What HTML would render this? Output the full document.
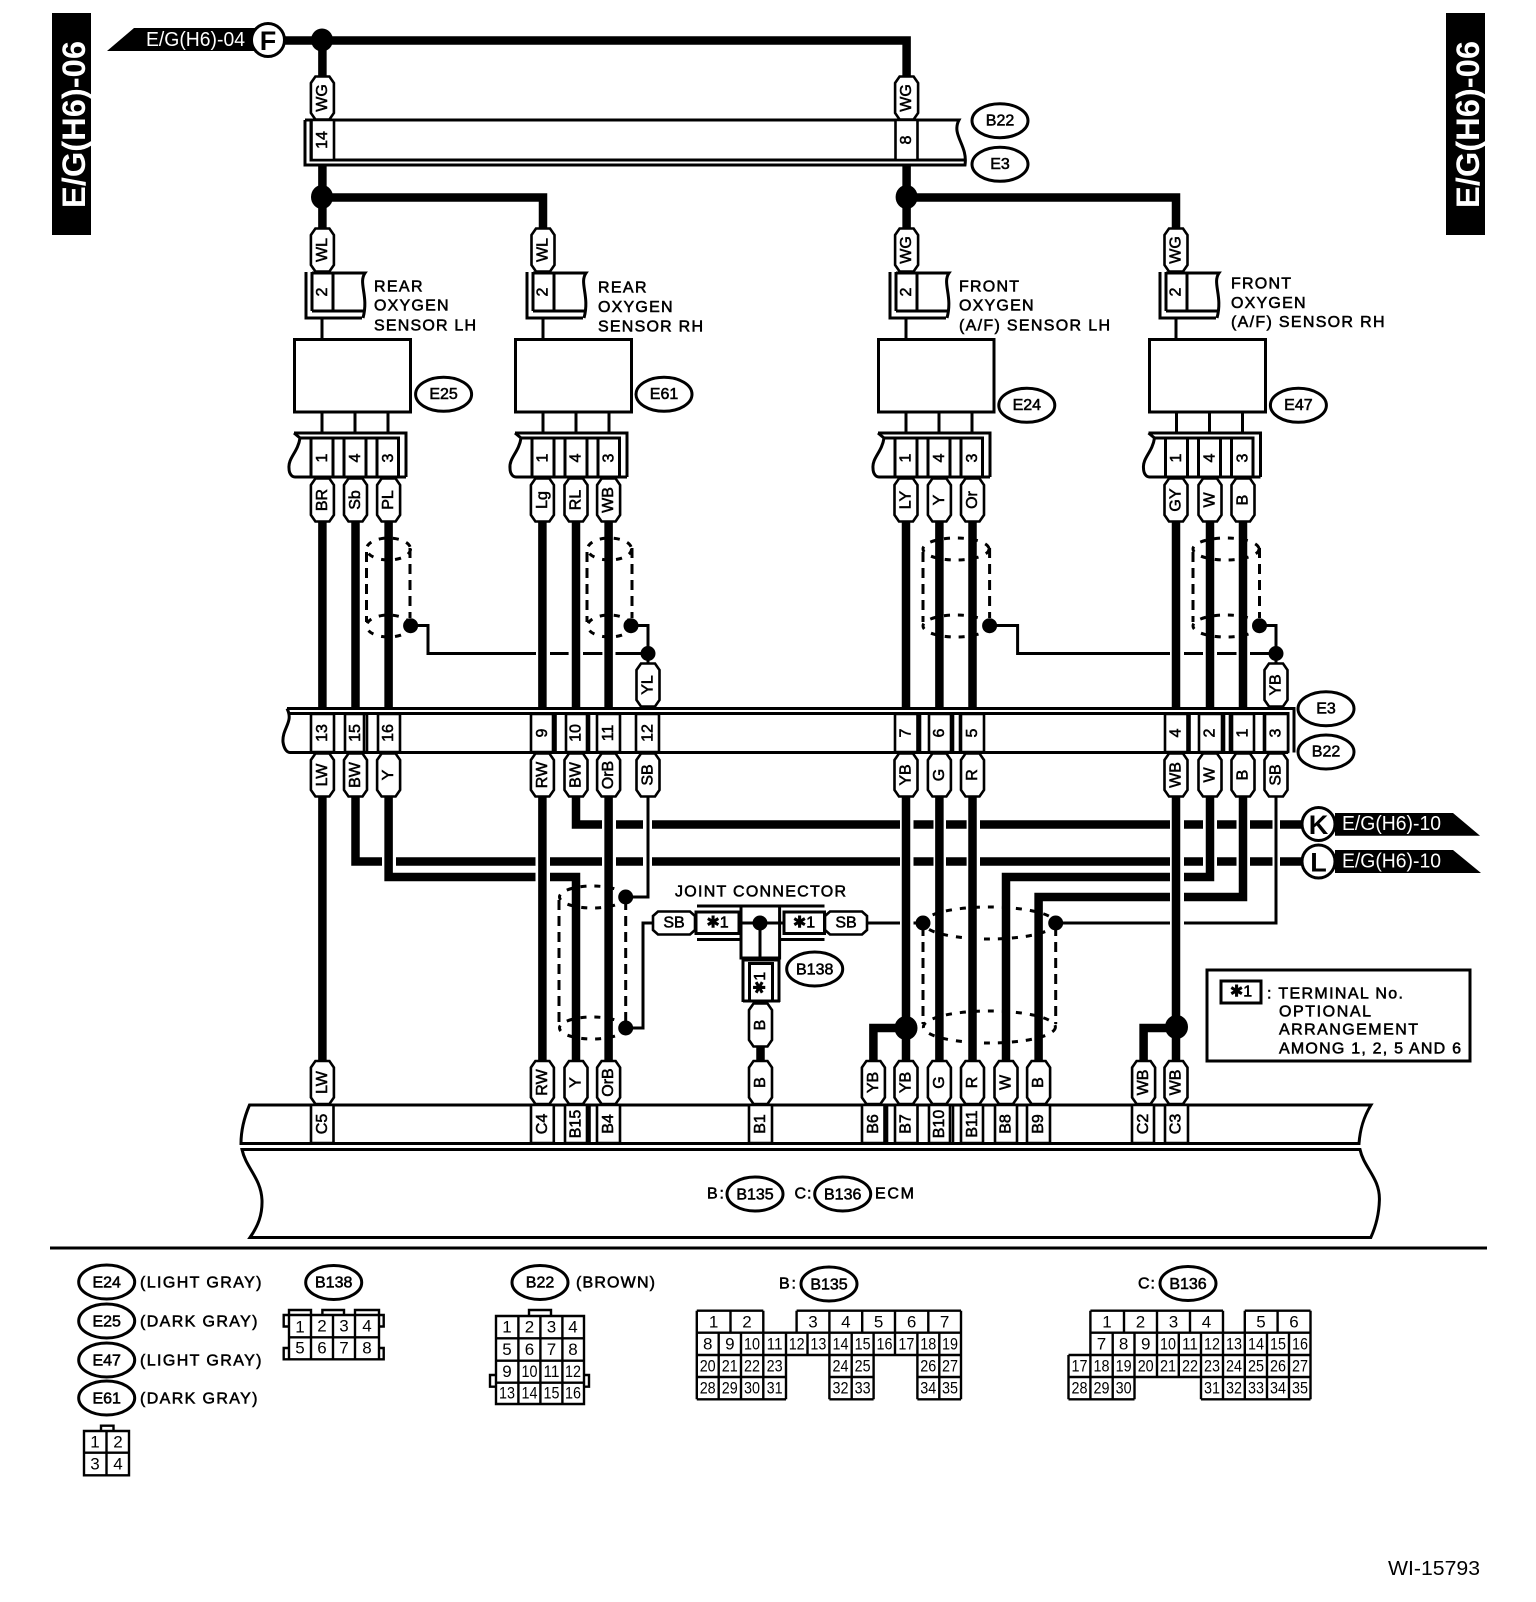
<!DOCTYPE html>
<html><head><meta charset="utf-8"><title>WI-15793</title>
<style>
html,body{margin:0;padding:0;background:#fff}
svg{display:block}
text{font-family:"Liberation Sans","DejaVu Sans",sans-serif;dominant-baseline:central;fill:#000;font-size:16px}
.m text,text.m{text-anchor:middle}
.b text,text.b{stroke:#000;stroke-width:.55px}
.w text,text.w{fill:#fff;stroke:none}
.t{fill:none;stroke:#000;stroke-width:3;stroke-linejoin:miter}
.k{fill:none;stroke:#000;stroke-width:8.5;stroke-linejoin:miter}
.d1{fill:none;stroke:#000;stroke-width:3;stroke-dasharray:6 8}
.d2{fill:none;stroke:#000;stroke-width:3;stroke-dasharray:10 6}
.o{fill:#fff;stroke:#000;stroke-width:3}
.c{fill:#fff;stroke:#000;stroke-width:2.6}
.g{fill:none;stroke:#000;stroke-width:2.4}
.n text{font-size:17px}
</style></head><body>
<svg xmlns="http://www.w3.org/2000/svg" width="1536" height="1602" viewBox="0 0 1536 1602">
<rect width="1536" height="1602" fill="#fff"/>
<defs>
<path id="p" class="c" d="M-11.5,-15 L-7,-21.5 H7 L11.5,-15 V15 L7,21.5 H-7 L-11.5,15 Z" stroke-width="2.6"/>
<path id="h" class="c" d="M-21,-7 L-16,-11.5 H16 L21,-7 V7 L16,11.5 H-16 L-21,7 Z"/>
<g id="top"><path class="t" d="M-16,272 V318 H40 M-10,272 V311 M-10,273 H43 C36,283 47,296 41,318 M-10,311 H42 M11,272 V311"/><path class="t" d="M0,318 V339"/></g>
<g id="low"><path class="t" d="M-28,433 H84 V477 M-22,438 H76.5 V477 M-28,433 L-22,438 C-24,452 -34,458 -33,468 C-33,474 -30,477 -27,477 H84"/><path class="t" d="M0,412 V433 M33,412 V433 M66,412 V433 M-11,438 V477 M11,438 V477 M22,438 V477 M44,438 V477 M55,438 V477"/></g>
</defs>

<!-- side bars -->
<rect x="52" y="13" width="39" height="222" fill="#000"/>
<text class="w" style="font-size:32px;font-weight:bold" text-anchor="middle" textLength="167" lengthAdjust="spacingAndGlyphs" transform="translate(74 124.5) rotate(-90)">E/G(H6)-06</text>
<rect x="1446" y="13" width="39" height="222" fill="#000"/>
<text class="w" style="font-size:32px;font-weight:bold" text-anchor="middle" textLength="167" lengthAdjust="spacingAndGlyphs" transform="translate(1468 124.5) rotate(-90)">E/G(H6)-06</text>

<!-- top tag F -->
<path d="M107,51 L134,28 H256 V51 Z" fill="#000"/>
<text class="w" x="146" y="40" style="font-size:20px" textLength="99" lengthAdjust="spacingAndGlyphs">E/G(H6)-04</text>

<!-- shields (under wires) -->
<g>
<ellipse class="d1" cx="388.5" cy="549" rx="22" ry="11"/><ellipse class="d1" cx="388.5" cy="626" rx="22" ry="11"/><path class="d2" d="M366.5,552 V622 M410,548 V618"/>
<ellipse class="d1" cx="609.5" cy="549" rx="22" ry="11"/><ellipse class="d1" cx="609.5" cy="626" rx="22" ry="11"/><path class="d2" d="M587,552 V622 M632,548 V618"/>
<ellipse class="d1" cx="956" cy="549" rx="33" ry="11"/><ellipse class="d1" cx="956" cy="626" rx="33" ry="11"/><path class="d2" d="M923,552 V622 M989.6,548 V618"/>
<ellipse class="d1" cx="1226" cy="549" rx="33" ry="11"/><ellipse class="d1" cx="1226" cy="626" rx="33" ry="11"/><path class="d2" d="M1193,552 V622 M1259.5,548 V618"/>
<ellipse class="d1" cx="592.5" cy="897" rx="33" ry="11"/><ellipse class="d1" cx="592.5" cy="1028" rx="33" ry="11"/><path class="d2" d="M559,900 V1024 M625.7,900 V1024"/>
<ellipse class="d1" cx="989.4" cy="923" rx="66" ry="16"/><ellipse class="d1" cx="989.4" cy="1027" rx="66" ry="16"/><path class="d2" d="M923,926 V1024 M1055.7,926 V1024"/>
</g>

<!-- thick wires -->
<path class="k" d="M284,40.5 H906.6 V77 M322.4,40 V77 M322.4,165 V229 M322.4,197.5 H543 V229 M906.6,165 V229 M906.6,197.5 H1176 V229"/>
<path class="k" d="M322.4,521 V708 M355.5,521 V708 M388.6,521 V708 M542.4,521 V708 M576,521 V708 M608.6,521 V708 M906,521 V708 M939.4,521 V708 M972.5,521 V708 M1176,521 V708 M1210,521 V708 M1243,521 V708"/>
<path class="k" d="M322.4,797 V1062 M542.4,797 V1062 M608.6,797 V1062 M906,797 V1062 M939.4,797 V1062 M972.5,797 V1062 M1176,797 V1062"/>
<path class="k" d="M576,797 V824.5 H602 M616,824.5 H643 M652,824.5 H900 M913.5,824.5 H933.5 M946,824.5 H966.6 M980,824.5 H1170 M1184,824.5 H1203 M1217,824.5 H1236.5 M1250,824.5 H1272.5 M1280,824.5 H1304"/>
<path class="k" d="M355.5,797 V861.5 H382 M396,861.5 H535.5 M550,861.5 H602 M616,861.5 H643 M652,861.5 H900 M913.5,861.5 H933.5 M946,861.5 H966.6 M980,861.5 H1170 M1184,861.5 H1203 M1217,861.5 H1236.5 M1250,861.5 H1272.5 M1280,861.5 H1304"/>
<path class="k" d="M388.6,797 V877 H535.5 M550,877 H576 V1062"/>
<path class="k" d="M1210,797 V877 H1184 M1170,877 H1006 V1062"/>
<path class="k" d="M1243,797 V897 H1184 M1170,897 H1038.6 V1062"/>
<path class="k" d="M906,1028 H873.4 V1062 M1176,1028 H1143.6 V1062 M760.5,1046 V1062"/>

<!-- thin wires -->
<path class="t" d="M411,625.5 H428 V653.5 H536 M550,653.5 H568.6 M583,653.5 H602.4 M615.5,653.5 H648 M631,625.5 H648 V664"/>
<path class="t" d="M990,625.5 H1017.6 V653.5 H1170 M1184,653.5 H1203 M1217,653.5 H1236.5 M1250,653.5 H1276 M1259.5,625.5 H1276 V664"/>
<path class="t" d="M648,797 V897 H626"/>
<path class="t" d="M1276,797 V923 H1184 M1170,923 H1056 M923,923 H913.5 M900,923 H866"/>
<path class="t" d="M626,1028 H643 V923 H654"/>

<!-- dots -->
<g fill="#000">
<ellipse cx="322" cy="40" rx="11" ry="11.5"/><ellipse cx="322" cy="197" rx="11" ry="12"/><ellipse cx="906.6" cy="197" rx="11" ry="12"/>
<circle cx="410.6" cy="625.7" r="7.5"/><circle cx="631" cy="625.7" r="7.5"/><circle cx="989.6" cy="625.7" r="7.5"/><circle cx="1259.5" cy="625.7" r="7.5"/>
<circle cx="648" cy="653.5" r="7.5"/><circle cx="1276" cy="653.5" r="7.5"/>
<circle cx="625.7" cy="897" r="7.5"/><circle cx="625.7" cy="1028" r="7.5"/><circle cx="923" cy="923" r="7.5"/><circle cx="1055.7" cy="923" r="7.5"/>
<ellipse cx="906" cy="1028" rx="11.5" ry="12"/><ellipse cx="1176.5" cy="1027" rx="11.5" ry="12"/>
</g>

<!-- top connector -->
<path class="t" d="M305,120 H959 C951,135 968,145 965,165 H305 V120 M311,120 V160 H964"/>
<path class="c" d="M311.5,120 H334 V160 H311.5 Z M895.5,120 H917.5 V160 H895.5 Z"/>

<!-- sensor top connectors and boxes -->
<use href="#top" x="322"/><use href="#top" x="543"/><use href="#top" x="906"/><use href="#top" x="1176"/>
<g fill="#fff" stroke="#000" stroke-width="3">
<rect x="294.5" y="339.5" width="116" height="72.5"/><rect x="515.5" y="339.5" width="116" height="72.5"/><rect x="878.5" y="339.5" width="115.5" height="72.5"/><rect x="1149.5" y="339.5" width="116" height="72.5"/>
</g>
<use href="#low" x="322"/><use href="#low" x="543"/><use href="#low" x="906"/><use href="#low" x="1176.5"/>

<!-- main bus -->
<path class="t" d="M287,708.5 H1294 V752.5 M290,713.5 H1288 V752.5 M287,708.5 C294,722 282,728 283,742 C284,749 287,752.5 290,752.5 H1288"/>
<g class="c">
<path d="M311,714 H334 V752 H311 Z M345,714 H367 V752 H345 Z M364,714 V752 M378,714 H400 V752 H378 Z M531,714 H553 V752 H531 Z M555.5,714 V752 M566,714 H587 V752 H566 Z M589,714 V752 M597,714 H620 V752 H597 Z M636,714 H659 V752 H636 Z M895,714 H917.5 V752 H895 Z M920,714 V752 M929,714 H951 V752 H929 Z M953,714 V752 M960,714 V752 M961,714 H984 V752 H961 Z M1165,714 H1187.5 V752 H1165 Z M1189.5,714 V752 M1199,714 H1222 V752 H1199 Z M1224,714 V752 M1230,714 V752 M1232,714 H1254 V752 H1232 Z M1264,714 V752 M1265,714 H1288 V752 H1265 Z"/>
</g>

<!-- ECM -->
<path class="t" d="M249.5,1105 H1371 C1363,1118 1360,1130 1359,1143.5 H241 C241,1130 244,1118 249.5,1105 Z"/>
<path class="t" d="M242,1149.5 H1360 C1364,1168 1380,1178 1379.4,1200 C1379,1215 1376,1226 1370.8,1237.5 H250 C258,1226 262.5,1215 262,1200 C261,1178 246,1168 242,1149.5 Z"/>
<path class="c" d="M311,1105 H333.5 V1143 H311 Z M531,1105 H553.8 V1143 H531 Z M565,1105 H587 V1143 H565 Z M589.5,1105 V1143 M597,1105 H620 V1143 H597 Z M749,1105 H772 V1143 H749 Z M862,1105 H884.5 V1143 H862 Z M887,1105 V1143 M895,1105 H917.5 V1143 H895 Z M929,1105 H950 V1143 H929 Z M953,1105 V1143 M961,1105 H983 V1143 H961 Z M995,1105 H1017 V1143 H995 Z M1027,1105 H1050 V1143 H1027 Z M1132,1105 H1154 V1143 H1132 Z M1165,1105 H1188 V1143 H1165 Z"/>
<path d="M50,1248 H1487" stroke="#000" stroke-width="3" fill="none"/>

<!-- joint connector -->
<path class="t" d="M697,906 H824.5 M697,939.5 H741 M781,939.5 H824.5 M741,907 V958 H779.6 V907 M739,923 H784 M760,923 V958"/>
<rect x="696" y="912" width="43" height="21.5" class="o"/><rect x="784" y="912" width="40.5" height="21.5" class="o"/>
<circle cx="760" cy="923" r="7.5" fill="#000"/>
<path class="t" d="M743,1002 V960 H779 V1002 M743,1001 H780 M749.5,1002 V963.5 H772.5 V1002"/>
<use href="#h" x="674" y="923"/><use href="#h" x="846" y="923"/>
<use href="#p" x="760.5" y="1025"/>

<!-- K L tags -->
<path d="M1335,813 H1453 L1480,835.7 H1335 Z" fill="#000"/>
<path d="M1335,850 H1453 L1481,873 H1335 Z" fill="#000"/>
<text class="w" x="1342" y="824" style="font-size:20px" textLength="99" lengthAdjust="spacingAndGlyphs">E/G(H6)-10</text>
<text class="w" x="1342" y="861.5" style="font-size:20px" textLength="99" lengthAdjust="spacingAndGlyphs">E/G(H6)-10</text>
<g class="o"><circle cx="268" cy="40" r="16.5"/><circle cx="1318.5" cy="824" r="16.5"/><circle cx="1318.5" cy="861.5" r="16.5"/></g>
<g class="m" style="font-weight:bold">
<text x="268" y="41" style="font-size:27px;font-weight:bold">F</text><text x="1318.5" y="825" style="font-size:27px;font-weight:bold">K</text><text x="1318.5" y="862.5" style="font-size:27px;font-weight:bold">L</text>
</g>

<!-- pills -->
<use href="#p" x="322.4" y="98"/><use href="#p" x="906.6" y="98"/>
<use href="#p" x="322.4" y="250"/><use href="#p" x="543" y="250"/><use href="#p" x="906.6" y="250"/><use href="#p" x="1176" y="250"/>
<use href="#p" x="322.4" y="500"/><use href="#p" x="355.5" y="500"/><use href="#p" x="388.6" y="500"/><use href="#p" x="542.4" y="500"/><use href="#p" x="576" y="500"/><use href="#p" x="608.6" y="500"/><use href="#p" x="906" y="500"/><use href="#p" x="939.4" y="500"/><use href="#p" x="972.5" y="500"/><use href="#p" x="1176" y="500"/><use href="#p" x="1210" y="500"/><use href="#p" x="1243" y="500"/>
<use href="#p" x="648" y="685"/><use href="#p" x="1276" y="685"/>
<use href="#p" x="322.4" y="775"/><use href="#p" x="355.5" y="775"/><use href="#p" x="388.6" y="775"/><use href="#p" x="542.4" y="775"/><use href="#p" x="576" y="775"/><use href="#p" x="608.6" y="775"/><use href="#p" x="648" y="775"/><use href="#p" x="906" y="775"/><use href="#p" x="939.4" y="775"/><use href="#p" x="972.5" y="775"/><use href="#p" x="1176" y="775"/><use href="#p" x="1210" y="775"/><use href="#p" x="1243" y="775"/><use href="#p" x="1276" y="775"/>
<use href="#p" x="322.4" y="1082.5"/><use href="#p" x="542.4" y="1082.5"/><use href="#p" x="576" y="1082.5"/><use href="#p" x="608.6" y="1082.5"/><use href="#p" x="760.5" y="1082.5"/><use href="#p" x="873.4" y="1082.5"/><use href="#p" x="906" y="1082.5"/><use href="#p" x="939.4" y="1082.5"/><use href="#p" x="972.5" y="1082.5"/><use href="#p" x="1006" y="1082.5"/><use href="#p" x="1038.6" y="1082.5"/><use href="#p" x="1143.6" y="1082.5"/><use href="#p" x="1176" y="1082.5"/>

<!-- rotated text -->
<g class="m b">
<text transform="translate(322.4 98) rotate(-90)">WG</text><text transform="translate(906.6 98) rotate(-90)">WG</text>
<text transform="translate(322.4 250) rotate(-90)">WL</text><text transform="translate(543 250) rotate(-90)">WL</text><text transform="translate(906.6 250) rotate(-90)">WG</text><text transform="translate(1176 250) rotate(-90)">WG</text>
<text transform="translate(322.4 500) rotate(-90)">BR</text><text transform="translate(355.5 500) rotate(-90)">Sb</text><text transform="translate(388.6 500) rotate(-90)">PL</text><text transform="translate(542.4 500) rotate(-90)">Lg</text><text transform="translate(576 500) rotate(-90)">RL</text><text transform="translate(608.6 500) rotate(-90)">WB</text><text transform="translate(906 500) rotate(-90)">LY</text><text transform="translate(939.4 500) rotate(-90)">Y</text><text transform="translate(972.5 500) rotate(-90)">Or</text><text transform="translate(1176 500) rotate(-90)">GY</text><text transform="translate(1210 500) rotate(-90)">W</text><text transform="translate(1243 500) rotate(-90)">B</text>
<text transform="translate(648 685) rotate(-90)">YL</text><text transform="translate(1276 685) rotate(-90)">YB</text>
<text transform="translate(322.4 775) rotate(-90)">LW</text><text transform="translate(355.5 775) rotate(-90)">BW</text><text transform="translate(388.6 775) rotate(-90)">Y</text><text transform="translate(542.4 775) rotate(-90)">RW</text><text transform="translate(576 775) rotate(-90)">BW</text><text transform="translate(608.6 775) rotate(-90)">OrB</text><text transform="translate(648 775) rotate(-90)">SB</text><text transform="translate(906 775) rotate(-90)">YB</text><text transform="translate(939.4 775) rotate(-90)">G</text><text transform="translate(972.5 775) rotate(-90)">R</text><text transform="translate(1176 775) rotate(-90)">WB</text><text transform="translate(1210 775) rotate(-90)">W</text><text transform="translate(1243 775) rotate(-90)">B</text><text transform="translate(1276 775) rotate(-90)">SB</text>
<text transform="translate(760.5 1025) rotate(-90)">B</text>
<text transform="translate(322.4 1082.5) rotate(-90)">LW</text><text transform="translate(542.4 1082.5) rotate(-90)">RW</text><text transform="translate(576 1082.5) rotate(-90)">Y</text><text transform="translate(608.6 1082.5) rotate(-90)">OrB</text><text transform="translate(760.5 1082.5) rotate(-90)">B</text><text transform="translate(873.4 1082.5) rotate(-90)">YB</text><text transform="translate(906 1082.5) rotate(-90)">YB</text><text transform="translate(939.4 1082.5) rotate(-90)">G</text><text transform="translate(972.5 1082.5) rotate(-90)">R</text><text transform="translate(1006 1082.5) rotate(-90)">W</text><text transform="translate(1038.6 1082.5) rotate(-90)">B</text><text transform="translate(1143.6 1082.5) rotate(-90)">WB</text><text transform="translate(1176 1082.5) rotate(-90)">WB</text>
<text transform="translate(322.4 140) rotate(-90)">14</text><text transform="translate(906.6 140) rotate(-90)">8</text>
<text transform="translate(322.4 292) rotate(-90)">2</text><text transform="translate(543 292) rotate(-90)">2</text><text transform="translate(906.6 292) rotate(-90)">2</text><text transform="translate(1176 292) rotate(-90)">2</text>
<text transform="translate(322.4 458) rotate(-90)">1</text><text transform="translate(355.5 458) rotate(-90)">4</text><text transform="translate(388.6 458) rotate(-90)">3</text><text transform="translate(543 458) rotate(-90)">1</text><text transform="translate(576 458) rotate(-90)">4</text><text transform="translate(609 458) rotate(-90)">3</text><text transform="translate(906 458) rotate(-90)">1</text><text transform="translate(939.4 458) rotate(-90)">4</text><text transform="translate(972.5 458) rotate(-90)">3</text><text transform="translate(1176.5 458) rotate(-90)">1</text><text transform="translate(1210 458) rotate(-90)">4</text><text transform="translate(1243 458) rotate(-90)">3</text>
<text transform="translate(322.4 733) rotate(-90)">13</text><text transform="translate(355.5 733) rotate(-90)">15</text><text transform="translate(388.6 733) rotate(-90)">16</text><text transform="translate(542.4 733) rotate(-90)">9</text><text transform="translate(576 733) rotate(-90)">10</text><text transform="translate(608.6 733) rotate(-90)">11</text><text transform="translate(648 733) rotate(-90)">12</text><text transform="translate(906 733) rotate(-90)">7</text><text transform="translate(939.4 733) rotate(-90)">6</text><text transform="translate(972.5 733) rotate(-90)">5</text><text transform="translate(1176 733) rotate(-90)">4</text><text transform="translate(1210 733) rotate(-90)">2</text><text transform="translate(1243 733) rotate(-90)">1</text><text transform="translate(1276 733) rotate(-90)">3</text>
<text transform="translate(322.4 1124) rotate(-90)">C5</text><text transform="translate(542.4 1124) rotate(-90)">C4</text><text transform="translate(576 1124) rotate(-90)">B15</text><text transform="translate(608.6 1124) rotate(-90)">B4</text><text transform="translate(760.5 1124) rotate(-90)">B1</text><text transform="translate(873.4 1124) rotate(-90)">B6</text><text transform="translate(906 1124) rotate(-90)">B7</text><text transform="translate(939.4 1124) rotate(-90)">B10</text><text transform="translate(972.5 1124) rotate(-90)">B11</text><text transform="translate(1006 1124) rotate(-90)">B8</text><text transform="translate(1038.6 1124) rotate(-90)">B9</text><text transform="translate(1143.6 1124) rotate(-90)">C2</text><text transform="translate(1176 1124) rotate(-90)">C3</text>
<text transform="translate(760.5 983) rotate(-90)">✱1</text>
</g>

<!-- joint labels -->
<g class="m b">
<text x="674" y="923">SB</text><text x="846" y="923">SB</text><text x="717.5" y="923">✱1</text><text x="804" y="923">✱1</text>
</g>
<text class="b" x="675" y="892" textLength="171" lengthAdjust="spacing">JOINT CONNECTOR</text>

<!-- sensor labels -->
<g class="b">
<text x="374" y="287" textLength="48.5">REAR</text><text x="374" y="306" textLength="74.5">OXYGEN</text><text x="374" y="326" textLength="102">SENSOR LH</text>
<text x="598" y="288" textLength="48.5">REAR</text><text x="598" y="307.5" textLength="74.5">OXYGEN</text><text x="598" y="327" textLength="105">SENSOR RH</text>
<text x="959" y="287" textLength="60">FRONT</text><text x="959" y="306" textLength="74.5">OXYGEN</text><text x="959" y="326" textLength="151">(A/F) SENSOR LH</text>
<text x="1231" y="284" textLength="60">FRONT</text><text x="1231" y="303.5" textLength="74.5">OXYGEN</text><text x="1231" y="322.5" textLength="153.5">(A/F) SENSOR RH</text>
</g>

<!-- ovals -->
<g class="o">
<ellipse cx="1000" cy="120.7" rx="28" ry="17"/><ellipse cx="1000" cy="164.3" rx="28" ry="17"/>
<ellipse cx="443.6" cy="394.3" rx="28" ry="17"/><ellipse cx="664" cy="394.3" rx="28" ry="17"/><ellipse cx="1026.8" cy="405.3" rx="28" ry="17"/><ellipse cx="1298.4" cy="405.3" rx="28" ry="17"/>
<ellipse cx="1326" cy="708.7" rx="28" ry="17"/><ellipse cx="1326" cy="752" rx="28" ry="17"/>
<ellipse cx="814.7" cy="969" rx="28" ry="17"/><ellipse cx="755" cy="1194" rx="28" ry="17"/><ellipse cx="842.7" cy="1194" rx="28" ry="17"/>
<ellipse cx="106.7" cy="1282" rx="28" ry="17"/><ellipse cx="106.7" cy="1321" rx="28" ry="17"/><ellipse cx="106.7" cy="1360" rx="28" ry="17"/><ellipse cx="106.7" cy="1398" rx="28" ry="17"/>
<ellipse cx="333.7" cy="1282.5" rx="28" ry="17"/><ellipse cx="540" cy="1282.5" rx="28" ry="17"/><ellipse cx="829" cy="1284" rx="28" ry="17"/><ellipse cx="1188" cy="1283.5" rx="28" ry="17"/>
</g>
<g class="m b">
<text x="1000" y="121">B22</text><text x="1000" y="164.5">E3</text><text x="443.6" y="394.5">E25</text><text x="664" y="394.5">E61</text><text x="1026.8" y="405.5">E24</text><text x="1298.4" y="405.5">E47</text><text x="1326" y="709">E3</text><text x="1326" y="752">B22</text><text x="814.7" y="970">B138</text><text x="755" y="1195">B135</text><text x="842.7" y="1195">B136</text>
<text x="106.7" y="1283">E24</text><text x="106.7" y="1322">E25</text><text x="106.7" y="1361">E47</text><text x="106.7" y="1399">E61</text><text x="333.7" y="1283">B138</text><text x="540" y="1283">B22</text><text x="829" y="1285">B135</text><text x="1188" y="1284.5">B136</text>
</g>
<g class="b">
<text x="707" y="1194" textLength="17">B:</text><text x="794.5" y="1194" textLength="17">C:</text><text x="875" y="1194" textLength="39">ECM</text>
<text x="140" y="1283" textLength="121.5">(LIGHT GRAY)</text><text x="140" y="1322" textLength="117.5">(DARK GRAY)</text><text x="140" y="1361" textLength="121.5">(LIGHT GRAY)</text><text x="140" y="1399" textLength="117.5">(DARK GRAY)</text>
<text x="576" y="1283" textLength="79">(BROWN)</text>
<text x="779" y="1284" textLength="17">B:</text><text x="1138" y="1284" textLength="17">C:</text>
</g>

<!-- note box -->
<rect x="1207" y="970" width="263" height="91" fill="#fff" stroke="#000" stroke-width="3"/>
<rect x="1221" y="981" width="40" height="22" fill="#fff" stroke="#000" stroke-width="3"/>
<text class="m b" x="1241" y="992">✱1</text>
<g class="b">
<text x="1267" y="994" textLength="136">: TERMINAL No.</text>
<text x="1279" y="1012" textLength="92">OPTIONAL</text>
<text x="1279" y="1030" textLength="139">ARRANGEMENT</text>
<text x="1279" y="1049" textLength="182">AMONG 1, 2, 5 AND 6</text>
</g>

<!-- 4 pin -->
<path class="g" d="M84,1431 H129 V1475.3 H84 Z M84,1452.7 H129 M106.5,1431 V1475.3 M101,1431 V1425.7 H113.5 V1431"/>
<g class="m n"><text x="95" y="1442">1</text><text x="118" y="1442">2</text><text x="95" y="1464">3</text><text x="118" y="1464">4</text></g>
<!-- 8 pin -->
<path class="g" d="M289,1315 H379 V1359.3 H289 Z M289,1337.3 H379 M311,1315 V1359.3 M333,1315 V1359.3 M355,1315 V1359.3 M289,1315 V1310 H311 V1315 M322.4,1315 V1310 H344 V1315 M355,1315 V1310 H379 V1315 M289,1315 H283.7 V1326.5 H289 M289,1348 H283.7 V1359.3 H289 M379,1315 H383.7 V1326.5 H379 M379,1348 H383.7 V1359.3 H379"/>
<g class="m n"><text x="300" y="1327">1</text><text x="322" y="1326">2</text><text x="344" y="1326">3</text><text x="367" y="1326">4</text><text x="300" y="1348">5</text><text x="322" y="1348">6</text><text x="344" y="1348">7</text><text x="367" y="1348">8</text></g>
<!-- 16 pin -->
<path class="g" d="M496,1316 H584 V1404 H496 Z M496,1338.3 H584 M496,1360.7 H584 M496,1382.7 H584 M518.4,1316 V1404 M540.4,1316 V1404 M562.4,1316 V1404 M529,1316 V1310 H551 V1316 M496,1375 H490 V1386.7 H496 M584,1375 H589 V1386.7 H584"/>
<g class="m n">
<text x="507" y="1327">1</text><text x="529.5" y="1327">2</text><text x="551.5" y="1327">3</text><text x="573" y="1327">4</text>
<text x="507" y="1349.5">5</text><text x="529.5" y="1349.5">6</text><text x="551.5" y="1349.5">7</text><text x="573" y="1349.5">8</text>
<text x="507" y="1371.7">9</text><text x="529.5" y="1371.7" textLength="16" lengthAdjust="spacingAndGlyphs">10</text><text x="551.5" y="1371.7" textLength="16" lengthAdjust="spacingAndGlyphs">11</text><text x="573" y="1371.7" textLength="16" lengthAdjust="spacingAndGlyphs">12</text>
<text x="507" y="1393" textLength="16" lengthAdjust="spacingAndGlyphs">13</text><text x="529.5" y="1393" textLength="16" lengthAdjust="spacingAndGlyphs">14</text><text x="551.5" y="1393" textLength="16" lengthAdjust="spacingAndGlyphs">15</text><text x="573" y="1393" textLength="16" lengthAdjust="spacingAndGlyphs">16</text>
</g>

<!-- B135 grid -->
<path class="g" d="M696.8,1310.7 H763.3 M796.6,1310.7 H961 M696.8,1332.7 H961 M696.8,1355 H961 M696.8,1377 H786 M829.4,1377 H873.6 M917.4,1377 H961 M696.8,1399.3 H786 M829.4,1399.3 H873.6 M917.4,1399.3 H961
M696.8,1310.7 V1399.3 M730.5,1310.7 V1332.7 M763.3,1310.7 V1399.3 M796.6,1310.7 V1332.7 M829.4,1310.7 V1399.3 M862.2,1310.7 V1332.7 M895,1310.7 V1355 M928.3,1310.7 V1332.7 M961,1310.7 V1399.3
M718.7,1332.7 V1399.3 M741,1332.7 V1399.3 M786,1332.7 V1399.3 M807.5,1332.7 V1355 M851.7,1332.7 V1399.3 M873.6,1332.7 V1399.3 M917.4,1332.7 V1399.3 M939.3,1332.7 V1399.3"/>
<g class="m n">
<text x="713.6" y="1322">1</text><text x="747" y="1322">2</text><text x="813" y="1322">3</text><text x="845.8" y="1322">4</text><text x="878.6" y="1322">5</text><text x="911.6" y="1322">6</text><text x="944.6" y="1322">7</text>
<text x="707.7" y="1344">8</text><text x="729.8" y="1344">9</text><text x="752" y="1344" textLength="16" lengthAdjust="spacingAndGlyphs">10</text><text x="774.6" y="1344" textLength="16" lengthAdjust="spacingAndGlyphs">11</text><text x="796.7" y="1344" textLength="16" lengthAdjust="spacingAndGlyphs">12</text><text x="818.4" y="1344" textLength="16" lengthAdjust="spacingAndGlyphs">13</text><text x="840.5" y="1344" textLength="16" lengthAdjust="spacingAndGlyphs">14</text><text x="862.6" y="1344" textLength="16" lengthAdjust="spacingAndGlyphs">15</text><text x="884.5" y="1344" textLength="16" lengthAdjust="spacingAndGlyphs">16</text><text x="906.4" y="1344" textLength="16" lengthAdjust="spacingAndGlyphs">17</text><text x="928.3" y="1344" textLength="16" lengthAdjust="spacingAndGlyphs">18</text><text x="950" y="1344" textLength="16" lengthAdjust="spacingAndGlyphs">19</text>
<text x="707.7" y="1366" textLength="16" lengthAdjust="spacingAndGlyphs">20</text><text x="729.8" y="1366" textLength="16" lengthAdjust="spacingAndGlyphs">21</text><text x="752" y="1366" textLength="16" lengthAdjust="spacingAndGlyphs">22</text><text x="774.6" y="1366" textLength="16" lengthAdjust="spacingAndGlyphs">23</text><text x="840.5" y="1366" textLength="16" lengthAdjust="spacingAndGlyphs">24</text><text x="862.6" y="1366" textLength="16" lengthAdjust="spacingAndGlyphs">25</text><text x="928.3" y="1366" textLength="16" lengthAdjust="spacingAndGlyphs">26</text><text x="950" y="1366" textLength="16" lengthAdjust="spacingAndGlyphs">27</text>
<text x="707.7" y="1388" textLength="16" lengthAdjust="spacingAndGlyphs">28</text><text x="729.8" y="1388" textLength="16" lengthAdjust="spacingAndGlyphs">29</text><text x="752" y="1388" textLength="16" lengthAdjust="spacingAndGlyphs">30</text><text x="774.6" y="1388" textLength="16" lengthAdjust="spacingAndGlyphs">31</text><text x="840.5" y="1388" textLength="16" lengthAdjust="spacingAndGlyphs">32</text><text x="862.6" y="1388" textLength="16" lengthAdjust="spacingAndGlyphs">33</text><text x="928.3" y="1388" textLength="16" lengthAdjust="spacingAndGlyphs">34</text><text x="950" y="1388" textLength="16" lengthAdjust="spacingAndGlyphs">35</text>
</g>

<!-- B136 grid -->
<path class="g" d="M1090.4,1310.7 H1223 M1244.8,1310.7 H1310.5 M1090.4,1332.7 H1310.5 M1068.5,1355 H1310.5 M1068.5,1377 H1310.5 M1068.5,1399.3 H1134.5 M1201,1399.3 H1310.5
M1090.4,1310.7 V1399.3 M1124,1310.7 V1332.7 M1157,1310.7 V1377 M1190,1310.7 V1332.7 M1223,1310.7 V1399.3 M1244.8,1310.7 V1399.3 M1277.6,1310.7 V1332.7 M1310.5,1310.7 V1399.3
M1112.7,1332.7 V1399.3 M1134.5,1332.7 V1399.3 M1178.8,1332.7 V1377 M1201,1332.7 V1399.3 M1267,1332.7 V1399.3 M1289,1332.7 V1399.3 M1068.5,1355 V1399.3"/>
<g class="m n">
<text x="1107" y="1322">1</text><text x="1140.5" y="1322">2</text><text x="1173.5" y="1322">3</text><text x="1206.5" y="1322">4</text><text x="1261" y="1322">5</text><text x="1294" y="1322">6</text>
<text x="1101.5" y="1344">7</text><text x="1123.6" y="1344">8</text><text x="1145.7" y="1344">9</text><text x="1168" y="1344" textLength="16" lengthAdjust="spacingAndGlyphs">10</text><text x="1190" y="1344" textLength="16" lengthAdjust="spacingAndGlyphs">11</text><text x="1212" y="1344" textLength="16" lengthAdjust="spacingAndGlyphs">12</text><text x="1234" y="1344" textLength="16" lengthAdjust="spacingAndGlyphs">13</text><text x="1256" y="1344" textLength="16" lengthAdjust="spacingAndGlyphs">14</text><text x="1278" y="1344" textLength="16" lengthAdjust="spacingAndGlyphs">15</text><text x="1300" y="1344" textLength="16" lengthAdjust="spacingAndGlyphs">16</text>
<text x="1079.5" y="1366" textLength="16" lengthAdjust="spacingAndGlyphs">17</text><text x="1101.5" y="1366" textLength="16" lengthAdjust="spacingAndGlyphs">18</text><text x="1123.6" y="1366" textLength="16" lengthAdjust="spacingAndGlyphs">19</text><text x="1145.7" y="1366" textLength="16" lengthAdjust="spacingAndGlyphs">20</text><text x="1168" y="1366" textLength="16" lengthAdjust="spacingAndGlyphs">21</text><text x="1190" y="1366" textLength="16" lengthAdjust="spacingAndGlyphs">22</text><text x="1212" y="1366" textLength="16" lengthAdjust="spacingAndGlyphs">23</text><text x="1234" y="1366" textLength="16" lengthAdjust="spacingAndGlyphs">24</text><text x="1256" y="1366" textLength="16" lengthAdjust="spacingAndGlyphs">25</text><text x="1278" y="1366" textLength="16" lengthAdjust="spacingAndGlyphs">26</text><text x="1300" y="1366" textLength="16" lengthAdjust="spacingAndGlyphs">27</text>
<text x="1079.5" y="1388" textLength="16" lengthAdjust="spacingAndGlyphs">28</text><text x="1101.5" y="1388" textLength="16" lengthAdjust="spacingAndGlyphs">29</text><text x="1123.6" y="1388" textLength="16" lengthAdjust="spacingAndGlyphs">30</text><text x="1212" y="1388" textLength="16" lengthAdjust="spacingAndGlyphs">31</text><text x="1234" y="1388" textLength="16" lengthAdjust="spacingAndGlyphs">32</text><text x="1256" y="1388" textLength="16" lengthAdjust="spacingAndGlyphs">33</text><text x="1278" y="1388" textLength="16" lengthAdjust="spacingAndGlyphs">34</text><text x="1300" y="1388" textLength="16" lengthAdjust="spacingAndGlyphs">35</text>
</g>

<text x="1388" y="1569" style="font-size:20px" textLength="92" lengthAdjust="spacingAndGlyphs">WI-15793</text>
</svg>
</body></html>
